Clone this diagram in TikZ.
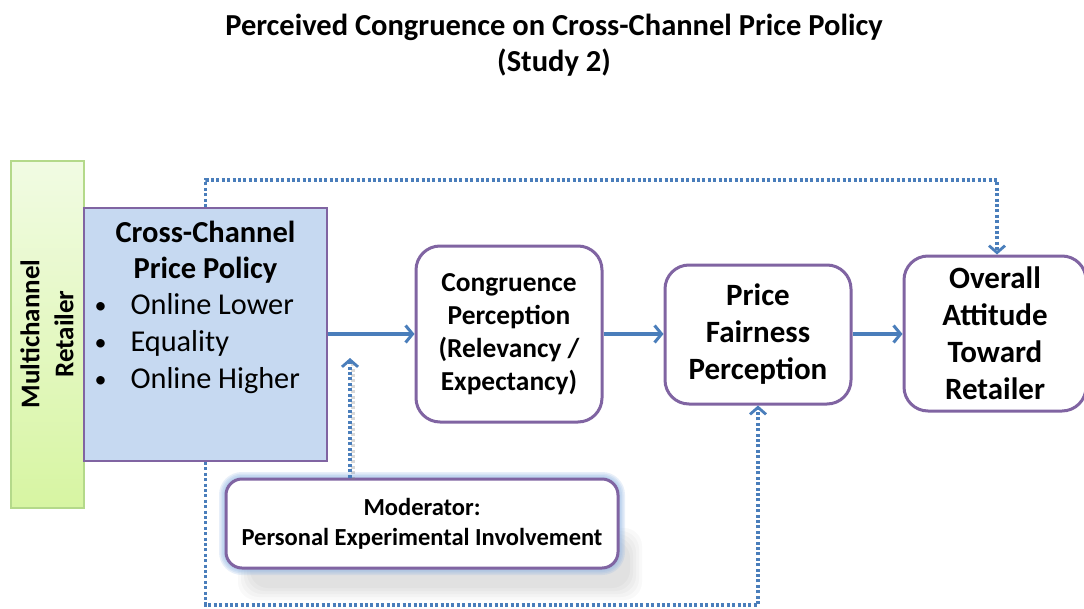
\documentclass[tikz,border=0pt]{standalone}
\usepackage{fontspec}
\setmainfont{Carlito}
\usetikzlibrary{arrows.meta}
\definecolor{lineblue}{HTML}{4A7EBB}
\definecolor{boxpurple}{HTML}{8064A2}
\definecolor{policyfill}{HTML}{C6D9F1}
\definecolor{greentop}{HTML}{F1FBE3}
\definecolor{greenbot}{HTML}{D7F5A2}
\definecolor{greenedge}{HTML}{B4D98A}
\definecolor{glowblue}{HTML}{8DB3E2}
\newcommand{\mybullet}{\makebox[36pt][l]{\raisebox{1.5pt}{\fontsize{24}{24}\selectfont•}}}
\tikzset{
  roundbox/.style={draw=boxpurple, line width=3pt, fill=white, rounded corners=24pt, align=center, font=\bfseries},
  solidarrow/.style={draw=lineblue, line width=3.5pt, -{Straight Barb[length=7pt,width=17pt,line width=3pt]}},
  dotarrow/.style={draw=lineblue, line width=3.2pt, dash pattern=on 3pt off 2.4pt, -{Straight Barb[length=7pt,width=16pt,line width=2.8pt]}},
}
\begin{document}
\begin{tikzpicture}[x=1pt,y=-1pt]
\clip (0,0) rectangle (1084,608);
\fill[white] (0,0) rectangle (1084,608);

% title
\node[font=\bfseries\fontsize{30.5}{36}\selectfont, align=center] (title) at (554,45) {Perceived Congruence on Cross-Channel Price Policy\\(Study 2)};

% retailer bar
\node[draw=greenedge, line width=1.5pt, top color=greentop, bottom color=greenbot, minimum width=73pt, minimum height=347pt, inner sep=0pt] (retail) at (47.5,334.5) {};
\node[rotate=90, font=\bfseries\fontsize{27}{34}\selectfont, align=center] (retailtext) at (47,334) {Multichannel\\Retailer};

% policy box
\node[draw=boxpurple, line width=2pt, fill=policyfill, minimum width=243pt, minimum height=253pt, inner sep=0pt] (policy) at (205.5,334.5) {};
\node[font=\bfseries\fontsize{30.5}{36}\selectfont, align=center] (policytitle) at (205.5,252) {Cross-Channel\\Price Policy};
\node[font=\fontsize{30.3}{37}\selectfont, align=left, anchor=west] (policylist) at (91,344) {\mybullet Online Lower\\\mybullet Equality\\\mybullet Online Higher};

% moderator shadow and glow
\foreach \d in {0,3,6,9,12}{
  \fill[black, opacity=0.025, rounded corners=18pt] (250-\d,540-\d) rectangle (630+\d,588+\d);
}
\foreach \w in {14,11,8,5}{
  \draw[glowblue, opacity=0.2, line width=\w pt, rounded corners=16pt] (226,479) rectangle (618,568);
}

% process boxes
\node[roundbox, minimum width=186pt, minimum height=176pt, font=\bfseries\fontsize{27.4}{33}\selectfont] (cong) at (509,334) {Congruence\\Perception\\(Relevancy /\\Expectancy)};
\node[roundbox, minimum width=186pt, minimum height=139pt, font=\bfseries\fontsize{31}{37}\selectfont] (price) at (758,334.5) {Price\\Fairness\\Perception};
\node[roundbox, minimum width=182pt, minimum height=155pt, font=\bfseries\fontsize{31}{37}\selectfont] (overall) at (995,333.5) {Overall\\Attitude\\Toward\\Retailer};
\node[roundbox, rounded corners=16pt, minimum width=392pt, minimum height=89pt, font=\bfseries\fontsize{24.5}{30}\selectfont] (mod) at (422,523.5) {Moderator:\\Personal Experimental Involvement};

% solid arrows
\draw[solidarrow] (policy.east |- cong.west) -- (cong.west);
\draw[solidarrow] (cong.east) -- (price.west |- cong.east);
\draw[solidarrow] (price.east |- cong.east) -- (overall.west |- cong.east);

% dotted arrows
\coordinate (modtip) at (350,358);
\draw[gray, opacity=0.3, line width=3.2pt, dash pattern=on 3pt off 2.4pt] ([xshift=3pt,yshift=-2pt]modtip |- mod.north) -- ([xshift=3pt,yshift=-4pt]modtip);
\draw[dotarrow] (modtip |- mod.north) -- (modtip);
\draw[dotarrow] (policy.north) -- ++(0,-27) -| ([xshift=2pt]overall.north);
\draw[dotarrow] (policy.south) -- ++(0,143) -| (price.south);
\end{tikzpicture}
\end{document}
